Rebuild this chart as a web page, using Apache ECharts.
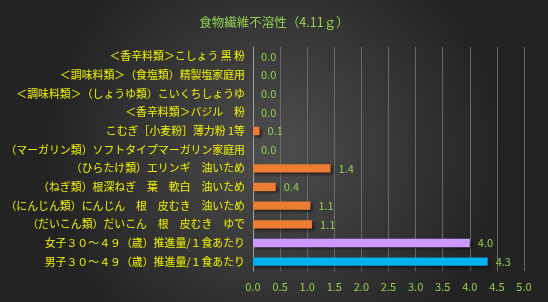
<!DOCTYPE html>
<html><head><meta charset="utf-8">
<script src="https://cdn.jsdelivr.net/npm/echarts@6/dist/echarts.min.js"></script>
<style>html,body{margin:0;padding:0;}#c{width:548px;height:302px;}</style>
</head><body><div id="c"></div>
<script>
const titleText = '食物繊維不溶性（4.11ｇ）';
const categories = [
  '＜香辛料類＞こしょう 黒 粉',
  '＜調味料類＞（食塩類）精製塩家庭用',
  '＜調味料類＞（しょうゆ類）こいくちしょうゆ',
  '＜香辛料類＞バジル　粉',
  'こむぎ［小麦粉］薄力粉 1等',
  '（マーガリン類）ソフトタイプマーガリン家庭用',
  '（ひらたけ類）エリンギ　油いため',
  '（ねぎ類）根深ねぎ　葉　軟白　油いため',
  '（にんじん類）にんじん　根　皮むき　油いため',
  '（だいこん類）だいこん　根　皮むき　ゆで',
  '女子３０～４９（歳）推進量/１食あたり',
  '男子３０～４９（歳）推進量/１食あたり'
];
const values = [0.0, 0.0, 0.0, 0.0, 0.12, 0.0, 1.43, 0.42, 1.06, 1.09, 4.0, 4.33];
const barColors = ['#ed7d31','#ed7d31','#ed7d31','#ed7d31','#ed7d31','#ed7d31','#ed7d31','#ed7d31','#ed7d31','#ed7d31','#cc99ff','#00b0f0'];
const xTicks = [0, 0.5, 1, 1.5, 2, 2.5, 3, 3.5, 4, 4.5, 5];

const chart = echarts.init(document.getElementById('c'), null, {renderer:'canvas'});
chart.setOption({
  backgroundColor: {
    type: 'radial', x: 0.5, y: 0.5, r: 0.75,
    colorStops: [{offset: 0, color: '#4e4e4e'}, {offset: 1, color: '#232323'}]
  },
  title: {
    text: titleText, left: 'center', top: 11,
    textStyle: {color: '#92d050', fontSize: 12.5, fontWeight: 'normal', fontFamily: 'Noto Sans CJK JP'}
  },
  grid: {left: 253, right: 24, top: 47, bottom: 31, containLabel: false},
  xAxis: {
    type: 'value', min: xTicks[0], max: xTicks[xTicks.length-1], interval: 0.5,
    axisLine: {show: false}, axisTick: {show: false},
    splitLine: {lineStyle: {color: '#6a6a6a', width: 1}},
    axisLabel: {color: '#92d050', fontSize: 11, margin: 10, fontFamily: 'Noto Sans CJK JP',
      formatter: v => v.toFixed(1)}
  },
  yAxis: {
    type: 'category', data: categories, inverse: true,
    axisLine: {show: true, lineStyle: {color: '#a0a0a0'}},
    axisTick: {show: false},
    axisLabel: {color: '#f2f200', fontSize: 10.9, margin: 8, fontFamily: 'Noto Sans CJK JP'}
  },
  series: [{
    type: 'bar', barCategoryGap: '55%',
    data: values.map((v, i) => ({value: v, itemStyle: {color: barColors[i]}})),
    itemStyle: {shadowColor: 'rgba(0,0,0,0.55)', shadowBlur: 3, shadowOffsetX: 2, shadowOffsetY: 2},
    label: {show: true, position: 'right', distance: 8, color: '#92d050', fontSize: 11,
      fontFamily: 'Noto Sans CJK JP', formatter: p => p.value.toFixed(1)}
  }]
});
</script></body></html>
